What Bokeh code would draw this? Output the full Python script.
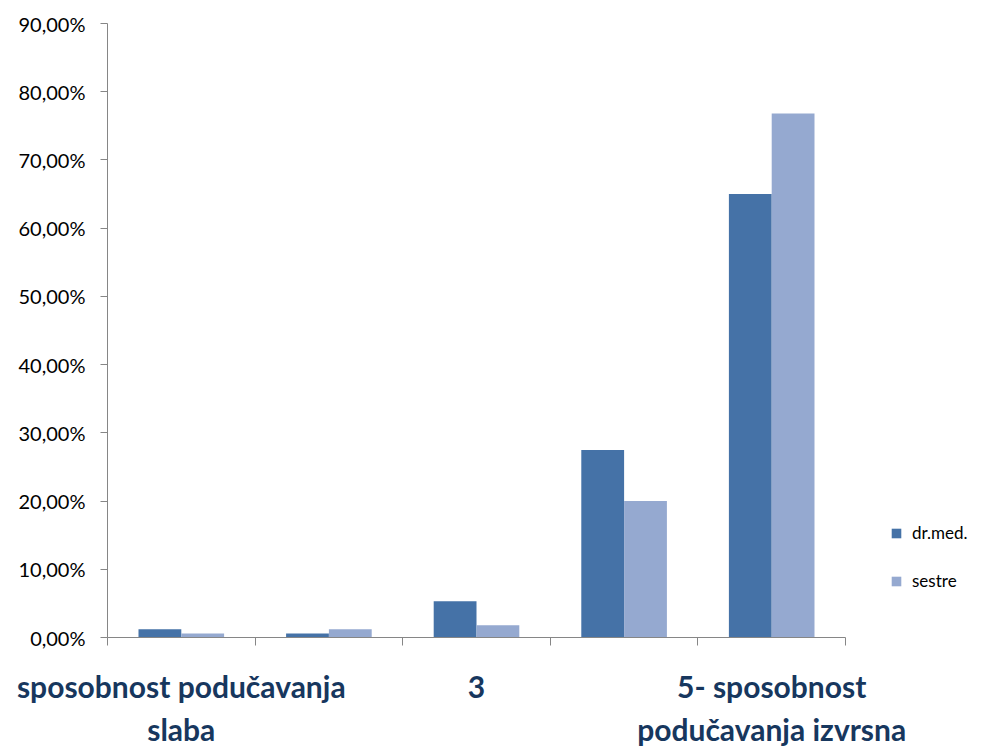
from bokeh.plotting import figure
from bokeh.models import (ColumnDataSource, LinearAxis, FixedTicker, Range1d,
                          Legend, LegendItem)
from bokeh.transform import dodge
from bokeh.embed import file_html
from bokeh.resources import INLINE

# ---- data ----
categories = ["sposobnost podučavanja\nslaba", "", "3", "", "5- sposobnost\npodučavanja izvrsna"]
positions = [1, 2, 3, 4, 5]
dr_med = [1.2, 0.6, 5.3, 27.5, 65.0]
sestre = [0.6, 1.2, 1.8, 20.0, 76.8]
series_names = ["dr.med.", "sestre"]
y_ticks = [0, 10, 20, 30, 40, 50, 60, 70, 80, 90]
y_tick_labels = ["0,00%", "10,00%", "20,00%", "30,00%", "40,00%", "50,00%",
                 "60,00%", "70,00%", "80,00%", "90,00%"]

DARK = "#4572A7"
LIGHT = "#95A9D0"
AXIS = "#868686"
NAVY = "#17375E"
FONT = "Lato"

src = ColumnDataSource(dict(x=positions, dr=dr_med, se=sestre))

p = figure(frame_width=738, frame_height=614, output_backend="svg", toolbar_location=None,
           x_range=Range1d(0.5, 5.5), y_range=Range1d(0, 90),
           x_axis_location=None, y_axis_location=None,
           min_border_left=107, min_border_right=152, min_border_top=23,
           min_border_bottom=110)
p.outline_line_color = None
p.xgrid.visible = False
p.ygrid.visible = False

r1 = p.vbar(x=dodge("x", -0.145, range=p.x_range), top="dr", width=0.29,
            source=src, fill_color=DARK, line_color=None)
r2 = p.vbar(x=dodge("x", 0.145, range=p.x_range), top="se", width=0.29,
            source=src, fill_color=LIGHT, line_color=None)

# y axis
yax = LinearAxis(ticker=FixedTicker(ticks=y_ticks))
yax.major_label_overrides = {t: l for t, l in zip(y_ticks, y_tick_labels)}
yax.axis_line_color = AXIS
yax.major_tick_line_color = AXIS
yax.major_tick_out = 7
yax.major_tick_in = 0
yax.minor_tick_line_color = None
yax.major_label_text_font = FONT
yax.major_label_text_font_size = "20px"
yax.major_label_text_color = "#000000"
yax.major_label_standoff = 15
p.add_layout(yax, "left")

# x axis: tick marks at category boundaries
xtick = LinearAxis(ticker=FixedTicker(ticks=[0.5, 1.5, 2.5, 3.5, 4.5, 5.5]))
xtick.axis_line_color = AXIS
xtick.major_tick_line_color = AXIS
xtick.major_tick_out = 8
xtick.major_tick_in = 0
xtick.minor_tick_line_color = None
xtick.major_label_text_font_size = "0px"
xtick.major_label_standoff = 0
p.add_layout(xtick, "below")

# x axis: category labels at centers
xlab = LinearAxis(ticker=FixedTicker(ticks=positions))
xlab.major_label_overrides = {pos: c for pos, c in zip(positions, categories)}
xlab.axis_line_color = None
xlab.major_tick_line_color = None
xlab.minor_tick_line_color = None
xlab.major_label_text_font = FONT
xlab.major_label_text_font_style = "bold"
xlab.major_label_text_font_size = "30px"
xlab.major_label_text_color = NAVY
xlab.major_label_standoff = 16
p.add_layout(xlab, "below")

legend = Legend(items=[LegendItem(label=series_names[0], renderers=[r1]),
                       LegendItem(label=series_names[1], renderers=[r2])],
                location=(45, 46), orientation="vertical",
                border_line_color=None, background_fill_alpha=0,
                padding=0, margin=0, spacing=27,
                glyph_width=12, glyph_height=12, label_standoff=10,
                label_text_font=FONT, label_text_font_size="17px",
                label_text_color="#000000", label_height=20)
p.add_layout(legend, "right")

open("out.html", "w").write(file_html(p, INLINE))
